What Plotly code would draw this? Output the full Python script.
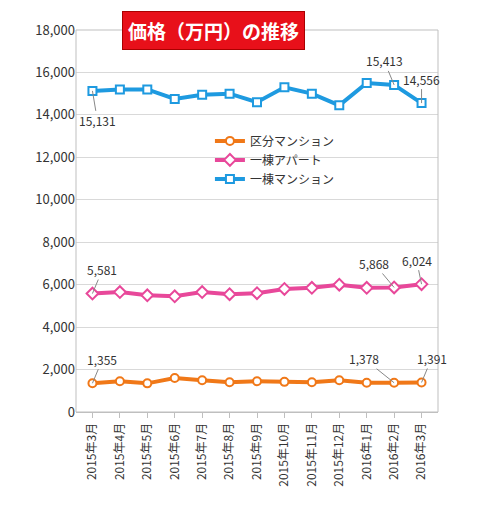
import plotly.graph_objects as go

months = ["2015年3月","2015年4月","2015年5月","2015年6月","2015年7月","2015年8月","2015年9月",
          "2015年10月","2015年11月","2015年12月","2016年1月","2016年2月","2016年3月"]
kubun = [1355,1450,1350,1600,1500,1400,1450,1420,1400,1500,1380,1378,1391]
apart = [5581,5650,5500,5450,5650,5550,5600,5800,5850,6000,5850,5868,6024]
ittou = [15131,15200,15200,14750,14950,15000,14600,15300,15000,14450,15500,15413,14556]

fig = go.Figure()
fig.add_trace(go.Scatter(x=months, y=kubun, name="区分マンション", mode="lines+markers",
    line=dict(color="#F07818", width=4), marker=dict(symbol="circle", size=8, color="white", line=dict(color="#F07818", width=2))))
fig.add_trace(go.Scatter(x=months, y=apart, name="一棟アパート", mode="lines+markers",
    line=dict(color="#E8489A", width=4), marker=dict(symbol="diamond", size=9, color="white", line=dict(color="#E8489A", width=2))))
fig.add_trace(go.Scatter(x=months, y=ittou, name="一棟マンション", mode="lines+markers",
    line=dict(color="#1E9AE0", width=4), marker=dict(symbol="square", size=8, color="white", line=dict(color="#1E9AE0", width=2))))

def lab(i, series, ax, ay):
    fig.add_annotation(x=months[i], y=series[i], text=f"{series[i]:,}", showarrow=True,
                       ax=ax, ay=ay, arrowhead=0, arrowwidth=1, arrowcolor="#888",
                       font=dict(size=12, color="#333"))
lab(0, ittou, 5, 30); lab(11, ittou, -10, -24); lab(12, ittou, 0, -24)
lab(0, apart, 10, -24); lab(11, apart, -20, -24); lab(12, apart, -5, -24)
lab(0, kubun, 10, -24); lab(11, kubun, -30, -24); lab(12, kubun, 10, -24)

fig.add_annotation(xref="paper", yref="paper", x=0.38, y=1.05, text="<b>価格（万円）の推移</b>",
    showarrow=False, font=dict(size=19, color="white"), bgcolor="#E8101A",
    bordercolor="#A00", borderwidth=1, borderpad=5)

fig.update_layout(width=486, height=512, paper_bgcolor="white", plot_bgcolor="white",
    margin=dict(l=68, r=56, t=22, b=108), font=dict(family="Noto Sans CJK JP", size=12, color="#333"),
    legend=dict(x=0.37, y=0.66, bgcolor="rgba(0,0,0,0)", font=dict(size=12), tracegroupgap=0),
    showlegend=True)
fig.update_yaxes(range=[0,18000], dtick=2000, tickformat=",", gridcolor="#D9D9D9",
    showline=False, zeroline=True, zerolinecolor="#BFBFBF", tickfont=dict(size=13))
fig.update_xaxes(tickangle=-90, showline=True, linecolor="#BFBFBF", showgrid=False,
    ticks="outside", tickcolor="#BFBFBF", tickfont=dict(size=12), range=[-0.6,12.6],
    mirror=False)
fig.add_shape(type="rect", xref="paper", yref="paper", x0=0, x1=1, y0=0, y1=1, line=dict(color="#BFBFBF", width=1))
fig.write_html("out.html")
